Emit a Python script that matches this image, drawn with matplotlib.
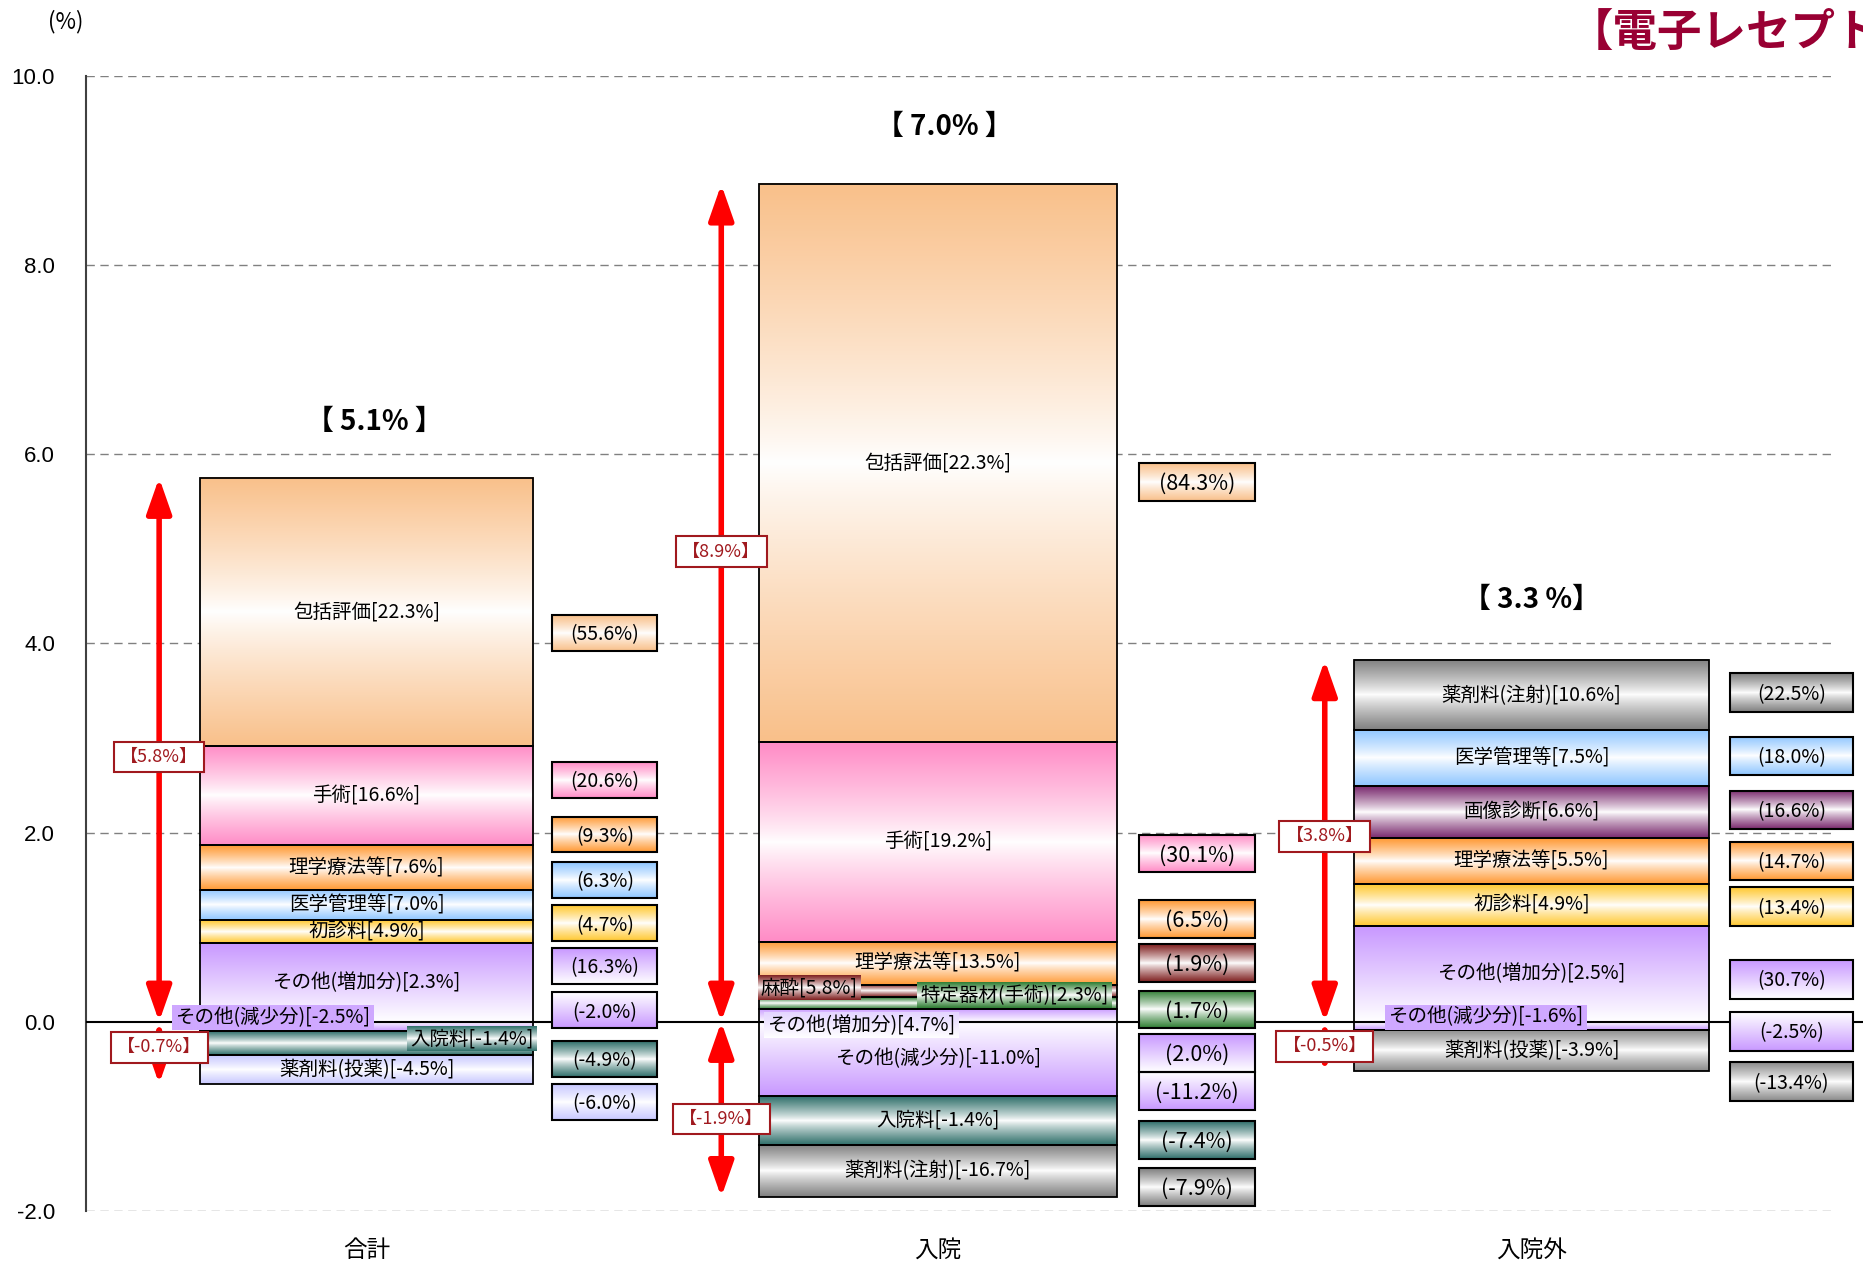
import matplotlib
matplotlib.use('Agg')
import matplotlib.pyplot as plt
import numpy as np
from matplotlib.colors import to_rgb
from matplotlib.patches import Rectangle

plt.rcParams['font.family'] = ['Noto Sans CJK JP', 'DejaVu Sans']

# ---- data ----
groups = ['合計', '入院', '入院外']
totals = [5.1, 7.0, 3.3]
total_labels = ['【 5.1% 】', '【 7.0% 】', '【 3.3 %】']

# positives bottom->top, then negatives top->bottom
items_total = ['その他(増加分)', '初診料', '医学管理等', '理学療法等', '手術', '包括評価',
               'その他(減少分)', '入院料', '薬剤料(投薬)']
growth_total = ['2.3', '4.9', '7.0', '7.6', '16.6', '22.3', '-2.5', '-1.4', '-4.5']
share_total = [16.3, 4.7, 6.3, 9.3, 20.6, 55.6, -2.0, -4.9, -6.0]

items_inpat = ['その他(増加分)', '特定器材(手術)', '麻酔', '理学療法等', '手術', '包括評価',
               'その他(減少分)', '入院料', '薬剤料(注射)']
growth_inpat = ['4.7', '2.3', '5.8', '13.5', '19.2', '22.3', '-11.0', '-1.4', '-16.7']
share_inpat = [2.0, 1.7, 1.9, 6.5, 30.1, 84.3, -11.2, -7.4, -7.9]

items_outpat = ['その他(増加分)', '初診料', '理学療法等', '画像診断', '医学管理等', '薬剤料(注射)',
                'その他(減少分)', '薬剤料(投薬)']
growth_outpat = ['2.5', '4.9', '5.5', '6.6', '7.5', '10.6', '-1.6', '-3.9']
share_outpat = [30.7, 13.4, 14.7, 16.6, 18.0, 22.5, -2.5, -13.4]

items = [items_total, items_inpat, items_outpat]
growth = [growth_total, growth_inpat, growth_outpat]
shares = [share_total, share_inpat, share_outpat]

# ---- styles ----
colors = {'包括評価': '#F9C08A', '手術': '#FF8CC6', '理学療法等': '#FF9933', '医学管理等': '#8FC6FF',
          '初診料': '#FFC830', 'その他(増加分)': '#C898FF', 'その他(減少分)': '#C898FF',
          '入院料': '#2F6F6A', '薬剤料(注射)': '#7F7F7F', '画像診断': '#7A2A6E',
          '麻酔': '#7F1F1F', '特定器材(手術)': '#2E7D32'}
drug_color = ['#C8C8FF', None, '#8A8A8A']   # 薬剤料(投薬) differs per panel
modes = {'その他(増加分)': 'top', 'その他(減少分)': 'bottom'}

# ---- layout ----
xpos = [0.0, 0.981, 2.0]
bar_w = [0.573, 0.614, 0.608]
box_dx = [0.409, 0.445, 0.446]
box_w = [0.18, 0.20, 0.21]
box_h = [0.38, 0.40, 0.41]
box_fs = [14, 15.5, 14]
box_y = [[0.59, 1.04, 1.50, 1.98, 2.56, 4.11, 0.12, -0.39, -0.85],
         [-0.33, 0.13, 0.62, 1.09, 1.78, 5.71, -0.735, -1.25, -1.75],
         [0.45, 1.22, 1.70, 2.24, 2.81, 3.48, -0.10, -0.63]]
arrow_dx = [-0.356, -0.372, -0.355]
arrow_lab_y = [[2.8, -0.27], [4.97, -1.03], [1.96, -0.26]]
total_xy = [(0.013, 6.34), (0.011, 9.46), (0.0, 4.46)]
special = {
    (0, 'その他(減少分)'): dict(x=-0.329, y=0.04, ha='left', bg='#CFA8FF', mode='flat'),
    (0, '入院料'): dict(x=0.2866, y=-0.18, ha='right', bg='#2F6F6A', mode='glossy'),
    (1, '麻酔'): dict(x=-0.304, y=0.36, ha='left', bg='#7F1F1F', mode='glossy'),
    (1, '特定器材(手術)'): dict(x=-0.03, y=0.28, ha='left', bg='#2E7D32', mode='glossy'),
    (1, 'その他(増加分)'): dict(x=-0.293, y=-0.04, ha='left', bg='#E4D4FF', mode='top'),
    (2, 'その他(減少分)'): dict(x=-0.247, y=0.05, ha='left', bg='#CFA8FF', mode='flat'),
}
xlim = (-0.4824, 2.569)
grid_right = 2.522


def grad(ax, x0, x1, y0, y1, color, mode, z):
    t = np.linspace(0, 1, 200)[:, None]
    if mode == 'top':
        w = t
    elif mode == 'bottom':
        w = 1 - t
    elif mode == 'flat':
        w = np.ones_like(t)
    else:
        w = np.abs(2 * t - 1) ** 0.85
    c = np.array(to_rgb(color))
    img = (1 - w)[..., None] + w[..., None] * c
    ax.imshow(img, extent=(x0, x1, y0, y1), origin='lower', aspect='auto',
              interpolation='bilinear', zorder=z)


fig = plt.figure(figsize=(18.63, 12.62), dpi=100)
ax = fig.add_axes([0.0459, 0.0405, 0.9541, 0.8992])
ax.set_xlim(*xlim)
ax.set_ylim(-2, 10)
ax.set_autoscale_on(False)

ax.hlines([-2, 2, 4, 6, 8, 10], xlim[0], grid_right, colors='#808080',
          linestyles=(0, (6, 4)), lw=1, zorder=0)
ax.hlines(0, xlim[0], xlim[1], colors='black', lw=1.5, zorder=3)

deferred = []
for g in range(3):
    xc, w = xpos[g], bar_w[g]
    pos_b, neg_b = 0.0, 0.0
    for i, name in enumerate(items[g]):
        h = shares[g][i] / 100 * totals[g]
        if h >= 0:
            y0, y1 = pos_b, pos_b + h
            pos_b = y1
        else:
            y0, y1 = neg_b + h, neg_b
            neg_b = y0
        col = colors.get(name) if name != '薬剤料(投薬)' else drug_color[g]
        mode = modes.get(name, 'glossy')
        grad(ax, xc - w / 2, xc + w / 2, y0, y1, col, mode, 1)
        ax.add_patch(Rectangle((xc - w / 2, y0), w, y1 - y0, fill=False,
                               ec='black', lw=1.3, zorder=2))
        label = f'{name}[{growth[g][i]}%]'
        sp = special.get((g, name))
        if sp is None:
            ax.text(xc, (y0 + y1) / 2, label, ha='center', va='center',
                    fontsize=14, zorder=6)
        else:
            t = ax.text(xc + sp['x'], sp['y'], label, ha=sp['ha'], va='center',
                        fontsize=14, zorder=6)
            deferred.append((t, sp))

        # contribution box on the right
        bx = xc + box_dx[g] - box_w[g] / 2
        by = box_y[g][i] - box_h[g] / 2
        grad(ax, bx, bx + box_w[g], by, by + box_h[g], col, mode, 4)
        ax.add_patch(Rectangle((bx, by), box_w[g], box_h[g], fill=False,
                               ec='black', lw=1.5, zorder=5, clip_on=False))
        ax.text(xc + box_dx[g], box_y[g][i] - 0.02, f'({shares[g][i]:.1f}%)',
                ha='center', va='center', fontsize=box_fs[g], zorder=6)

    # red arrows for positive and negative sums
    ax_x = xc + arrow_dx[g]
    for end in (pos_b, neg_b):
        ax.annotate('', xy=(ax_x, end), xytext=(ax_x, 0),
                    arrowprops=dict(arrowstyle='<|-|>,head_length=0.8,head_width=0.28',
                                    color='red', lw=4, mutation_scale=27,
                                    shrinkA=0, shrinkB=0), zorder=7)
    for val, ly in zip((pos_b, neg_b), arrow_lab_y[g]):
        ax.text(ax_x, ly, f'【{val:.1f}%】', ha='center', va='center', fontsize=13,
                color='#A0191E', zorder=8,
                bbox=dict(boxstyle='square,pad=0.35', fc='white', ec='#A0191E', lw=1.5))

    tx, ty = total_xy[g]
    ax.text(xc + tx, ty, total_labels[g], ha='center', va='center', fontsize=20,
            fontweight='bold', zorder=6)

# gradient backgrounds behind offset labels
fig.canvas.draw()
renderer = fig.canvas.get_renderer()
inv = ax.transData.inverted()
for t, sp in deferred:
    bb = t.get_window_extent(renderer)
    (x0, y0), (x1, y1) = inv.transform([[bb.x0 - 3, bb.y0 - 2], [bb.x1 + 3, bb.y1 + 2]])
    grad(ax, x0, x1, y0, y1, sp['bg'], sp['mode'], 5.5)

ax.set_xticks(xpos)
ax.set_xticklabels(groups, fontsize=17)
ax.set_yticks(np.arange(-2, 10.1, 2))
ax.set_yticklabels([f'{v:.1f}' for v in np.arange(-2, 10.1, 2)],
                   fontsize=16, family=['Liberation Sans', 'DejaVu Sans'])
ax.tick_params(axis='x', length=0, pad=20)
ax.tick_params(axis='y', length=0, pad=22)
for s in ['top', 'right', 'bottom']:
    ax.spines[s].set_visible(False)
ax.spines['left'].set_color('#404040')
ax.spines['left'].set_linewidth(1.5)

fig.text(0.035, 0.983, '(%)', ha='center', va='center', fontsize=16)
fig.text(0.842, 0.992, '【電子レセプト】', color='#990033', fontsize=32,
         fontweight='bold', ha='left', va='top')

fig.savefig('out.png', dpi=100)
